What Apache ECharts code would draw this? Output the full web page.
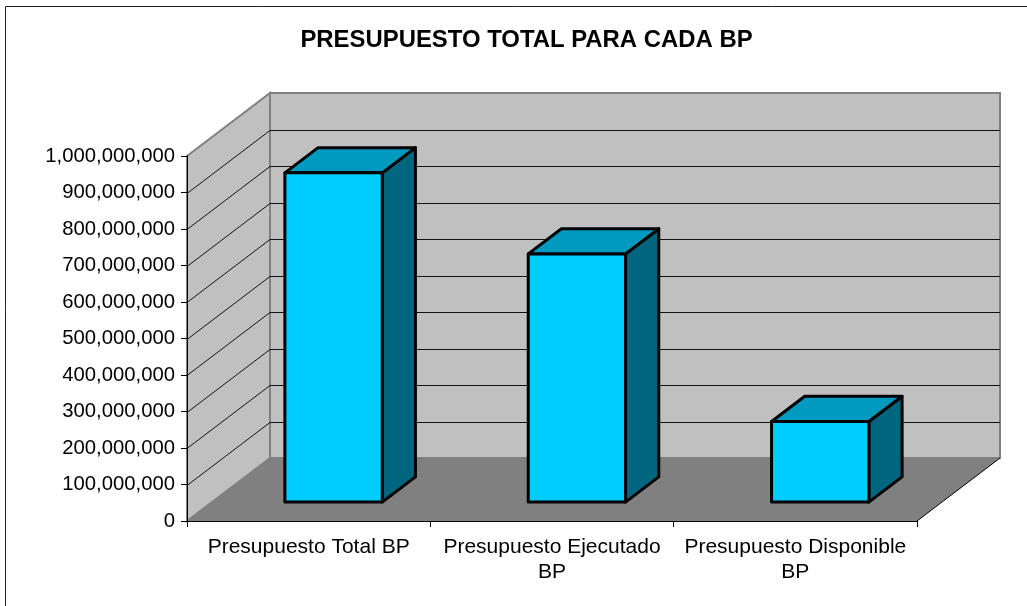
<!DOCTYPE html>
<html>
<head>
<meta charset="utf-8">
<style>
  html, body { margin: 0; padding: 0; background: #fff; overflow: hidden; }
  #chart { width: 1027px; height: 606px; }
</style>
<script src="https://cdn.jsdelivr.net/npm/echarts@6/dist/echarts.min.js"></script>
</head>
<body>
<div id="chart"></div>
<script>
const categories = ["Presupuesto Total BP", "Presupuesto Ejecutado\nBP", "Presupuesto Disponible\nBP"];
const budgetValues = [902000000, 680000000, 221000000];
const yTicks = [100000000, 200000000, 300000000, 400000000, 500000000, 600000000, 700000000, 800000000, 900000000];

// how far the back wall sits behind the axes, in pixels
const depthX = 83;
const depthY = -63;
const fontName = '"Liberation Sans", Arial, sans-serif';

// Side wall, back wall and floor
function renderWalls(params, api) {
  const c = params.coordSys;
  const left = c.x, right = c.x + c.width, top = c.y, bottom = c.y + c.height;
  const shift = (x, y) => [x + depthX, y + depthY];
  return {
    type: "group",
    children: [
      {
        type: "polygon",
        shape: { points: [shift(left, top), shift(right, top), shift(right, bottom), shift(left, bottom)] },
        style: { fill: "#c0c0c0", stroke: "#808080", lineWidth: 2 },
      },
      {
        type: "polygon",
        shape: { points: [[left, top], shift(left, top), shift(left, bottom), [left, bottom]] },
        style: { fill: "#c0c0c0", stroke: "#808080", lineWidth: 2 },
      },
      {
        type: "polygon",
        shape: { points: [[left, bottom], [right, bottom], shift(right, bottom), shift(left, bottom)] },
        style: { fill: "#808080" },
      },
      {
        type: "line",
        shape: { x1: right, y1: bottom, x2: right + depthX, y2: bottom + depthY },
        style: { stroke: "#000", lineWidth: 1 },
      },
    ],
  };
}

// One gridline: along the side wall and then across the back wall
function renderGridLine(params, api) {
  const c = params.coordSys;
  const y = Math.round(api.coord([0, api.value(1)])[1]) + 0.5;
  return {
    type: "polyline",
    shape: { points: [[c.x, y], [c.x + depthX, y + depthY], [c.x + c.width + depthX, y + depthY]] },
    style: { fill: null, stroke: "#111", lineWidth: 1 },
  };
}

// 3D box: width is 40% of a category, depth 40% of the wall depth
function renderBar(params, api) {
  const base = api.coord([api.value(0), 0]);
  const top = api.coord([api.value(0), api.value(1)]);
  const w = api.size([1, 0])[0] * 0.4;
  const offX = depthX * 0.3, offY = depthY * 0.3;
  const dx = depthX * 0.4, dy = depthY * 0.4;
  const x0 = base[0] - w / 2 + offX, x1 = x0 + w;
  const y0 = top[1] + offY, y1 = base[1] + offY;
  const edge = { stroke: "#000", lineWidth: 3, lineJoin: "round" };
  return {
    type: "group",
    children: [
      {
        type: "polygon",
        shape: { points: [[x1, y0], [x1 + dx, y0 + dy], [x1 + dx, y1 + dy], [x1, y1]] },
        style: { fill: "#006680", ...edge },
      },
      {
        type: "polygon",
        shape: { points: [[x0, y0], [x0 + dx, y0 + dy], [x1 + dx, y0 + dy], [x1, y0]] },
        style: { fill: "#0099bf", ...edge },
      },
      {
        type: "rect",
        shape: { x: x0, y: y0, width: w, height: y1 - y0 },
        style: { fill: "#00ccff", ...edge },
      },
    ],
  };
}

const chart = echarts.init(document.getElementById("chart"), null, { renderer: "canvas" });

chart.setOption({
  backgroundColor: "#fff",
  animation: false,
  title: {
    text: "PRESUPUESTO TOTAL PARA CADA BP",
    left: 521.5,
    top: 23,
    textAlign: "center",
    textStyle: { fontFamily: fontName, fontSize: 23.9, fontWeight: "bold", color: "#000" },
  },
  graphic: [
    {
      type: "rect",
      shape: { x: 5.5, y: 6.5, width: 1200, height: 800 },
      style: { fill: null, stroke: "#222", lineWidth: 1 },
      silent: true,
      z: 10,
    },
  ],
  grid: { left: 187, right: 110, top: 156, height: 365 },
  xAxis: {
    type: "category",
    data: categories,
    z: 5,
    axisLine: { lineStyle: { color: "#000", width: 1 } },
    axisTick: { show: true, alignWithLabel: false, length: 6, lineStyle: { color: "#000" } },
    axisLabel: {
      interval: 0,
      margin: 14,
      lineHeight: 25,
      color: "#000",
      fontFamily: fontName,
      fontSize: 21,
    },
  },
  yAxis: {
    type: "value",
    min: 0,
    max: 1000000000,
    interval: 100000000,
    z: 5,
    splitLine: { show: false },
    axisLine: { show: true, lineStyle: { color: "#000", width: 1 } },
    axisTick: { show: true, length: 6, lineStyle: { color: "#000" } },
    axisLabel: {
      margin: 12,
      padding: [2, 0, 0, 0],
      color: "#000",
      fontFamily: fontName,
      fontSize: 20.3,
      formatter: (v) => v.toLocaleString("en-US"),
    },
  },
  series: [
    { type: "custom", renderItem: renderWalls, data: [[0, 0]], clip: false, silent: true, z: 1 },
    {
      type: "custom",
      renderItem: renderGridLine,
      data: yTicks.map((v) => [0, v]),
      clip: false,
      silent: true,
      z: 2,
    },
    {
      type: "custom",
      renderItem: renderBar,
      data: budgetValues.map((v, i) => [i, v]),
      clip: false,
      z: 3,
    },
  ],
});

window.addEventListener("resize", chart.resize);
</script>
</body>
</html>
